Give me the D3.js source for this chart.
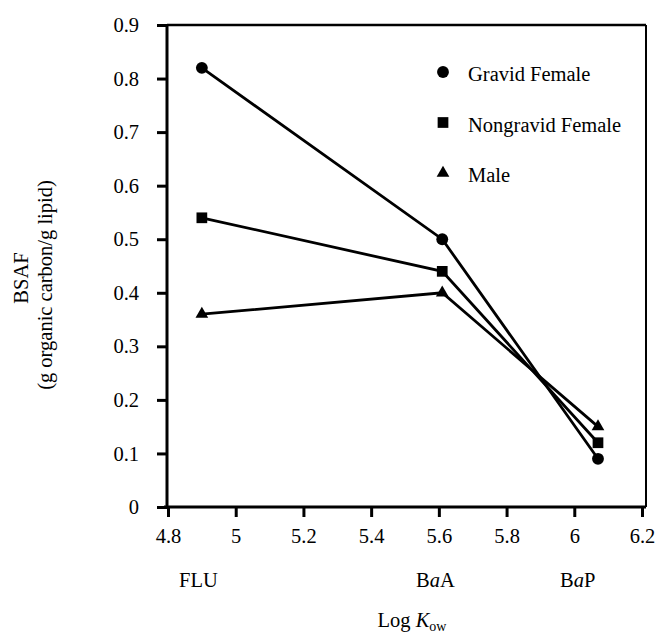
<!DOCTYPE html>
<html>
<head>
<meta charset="utf-8">
<script src="https://cdn.jsdelivr.net/npm/d3@7/dist/d3.min.js"></script>
<style>
  body { margin: 0; background: #fff; }
  svg text { font-family: "Liberation Serif", "DejaVu Serif", serif !important; fill: #000; }
</style>
</head>
<body>
<script>
// data
const logKow = [4.90, 5.61, 6.07];
const compounds = ["FLU", "BaA", "BaP"];
const compoundLabelX = [4.89, 5.59, 6.01];
const gravidFemale = [0.82, 0.50, 0.09];
const nongravidFemale = [0.54, 0.44, 0.12];
const male = [0.36, 0.40, 0.15];
const xTicks = [4.8, 5, 5.2, 5.4, 5.6, 5.8, 6, 6.2];
const yTicks = [0, 0.1, 0.2, 0.3, 0.4, 0.5, 0.6, 0.7, 0.8, 0.9];

const series = [
  { name: "Gravid Female", values: gravidFemale, shape: d3.symbolCircle, size: 110 },
  { name: "Nongravid Female", values: nongravidFemale, shape: d3.symbolSquare, size: 115 },
  { name: "Male", values: male, shape: d3.symbolTriangle, size: 70 }
];

const W = 655, H = 633;
const pL = 167, pR = 646, pT = 25, pB = 507;
const fs = 20.5;

const svg = d3.select("body").append("svg")
  .attr("width", W).attr("height", H);

const x = d3.scaleLinear().domain([4.8, 6.2]).range([168, 642]);
const y = d3.scaleLinear().domain([0, 0.9]).range([pB, pT]);

// frame (top + right thinner)
svg.append("line").attr("x1", pL).attr("x2", pR).attr("y1", pT).attr("y2", pT)
  .attr("stroke", "#000").attr("stroke-width", 2.5);
svg.append("line").attr("x1", pR).attr("x2", pR).attr("y1", pT).attr("y2", pB)
  .attr("stroke", "#000").attr("stroke-width", 2);

// axes
const yAxis = d3.axisLeft(y).tickValues(yTicks).tickSize(10).tickPadding(18)
  .tickFormat(d => d === 0 ? "0" : d3.format(".1f")(d));
const gy = svg.append("g").attr("transform", "translate(" + pL + ",0)").call(yAxis);

const xAxis = d3.axisBottom(x).tickValues(xTicks).tickSize(10).tickPadding(11)
  .tickFormat(d => d3.format("~g")(d));
const gx = svg.append("g").attr("transform", "translate(0," + pB + ")").call(xAxis);

[gx, gy].forEach(g => {
  g.attr("font-family", null).attr("font-size", null);
  g.select(".domain").attr("stroke", "#000").attr("stroke-width", 3);
  g.selectAll(".tick line").attr("stroke", "#000").attr("stroke-width", 3);
  g.selectAll(".tick text").attr("font-size", fs).attr("fill", "#000");
});
gx.select(".domain").attr("d", "M" + (pL - 3) + ",0H" + pR);
gy.select(".domain").attr("d", "M0," + pT + "V" + (pB + 1));

// compound labels under the axis
const cl = svg.append("g");
compounds.forEach((c, i) => {
  const t = cl.append("text").attr("x", x(compoundLabelX[i])).attr("y", 587)
    .attr("text-anchor", "middle").attr("font-size", fs);
  if (c.length === 3 && c[1] === "a") {
    t.append("tspan").text("B");
    t.append("tspan").attr("font-style", "italic").text("a");
    t.append("tspan").text(c[2]);
  } else {
    t.text(c);
  }
});

// x title
const xt = svg.append("text").attr("x", 412).attr("y", 627)
  .attr("text-anchor", "middle").attr("font-size", fs);
xt.append("tspan").text("Log ");
xt.append("tspan").attr("font-style", "italic").text("K");
xt.append("tspan").attr("font-size", 14).attr("dy", 4).text("ow");

// y title
svg.append("text").attr("transform", "translate(28,278) rotate(-90)")
  .attr("text-anchor", "middle").attr("font-size", fs).text("BSAF");
svg.append("text").attr("transform", "translate(52,285) rotate(-90)")
  .attr("text-anchor", "middle").attr("font-size", fs).text("(g organic carbon/g lipid)");

// lines + markers
const line = d3.line().x((d, i) => x(logKow[i])).y(d => y(d));
series.forEach(s => {
  svg.append("path").datum(s.values).attr("d", line)
    .attr("fill", "none").attr("stroke", "#000").attr("stroke-width", 2.8);
  svg.append("g").selectAll("path").data(s.values).join("path")
    .attr("transform", (d, i) => "translate(" + x(logKow[i]) + "," + y(d) + ")")
    .attr("d", d3.symbol().type(s.shape).size(s.size))
    .attr("fill", "#000");
});

// legend
const lg = svg.append("g");
series.forEach((s, i) => {
  const ly = 72 + i * 50.5;
  lg.append("path").attr("transform", "translate(443," + ly + ")")
    .attr("d", d3.symbol().type(s.shape).size(s.size)).attr("fill", "#000");
  lg.append("text").attr("x", 468).attr("y", ly + 9).attr("font-size", fs).text(s.name);
});
</script>
</body>
</html>
